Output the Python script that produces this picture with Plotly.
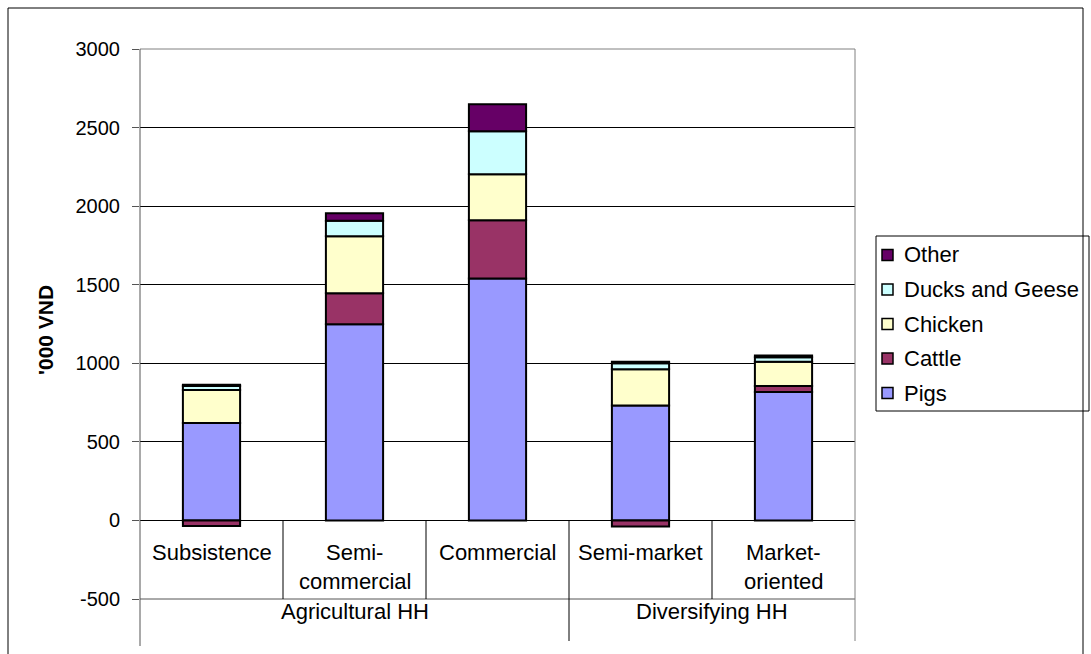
import plotly.graph_objects as go

# Livestock income by household type ('000 VND)
categories = ["Subsistence", "Semi-\ncommercial", "Commercial", "Semi-market", "Market-\noriented"]
groups = ["Agricultural HH", "Diversifying HH"]
group_sizes = [3, 2]

pigs = [620, 1248, 1540, 732, 818]
cattle = [-35, 198, 370, -38, 37]
chicken = [210, 363, 293, 230, 155]
ducks_geese = [25, 98, 274, 38, 28]
other = [8, 47, 172, 10, 12]

series = [
    ("Pigs", pigs, "#9999FF"),
    ("Cattle", cattle, "#993366"),
    ("Chicken", chicken, "#FFFFCC"),
    ("Ducks and Geese", ducks_geese, "#CCFFFF"),
    ("Other", other, "#660066"),
]

y_ticks = [-500, 0, 500, 1000, 1500, 2000, 2500, 3000]
y_tick_text = ["-500", "0", "500", "1000", "1500", "2000", "2500", "3000"]
y_min, y_max = -500, 3000

W, H = 1091, 654
L, R, T, B = 140, 855, 49, 599  # plot area in pixels
FONT = "Liberation Sans, Arial, sans-serif"
FS_TICK = 20
FS_LABEL = 22


def px_x(px):
    return (px - L) / (R - L)


def px_y(py):
    return (B - py) / (B - T)


n = len(categories)
xs = list(range(n))

fig = go.Figure()
for name, vals, color in series:
    fig.add_trace(go.Bar(
        x=xs, y=vals, name=name, width=0.4,
        marker=dict(color=color, line=dict(color="black", width=2)),
        showlegend=False,
    ))

shapes = []
annotations = []

zero_paper = (0 - y_min) / (y_max - y_min)

# bottom gridline (-500) also separates the two label rows
shapes.append(dict(type="line", xref="paper", yref="paper", x0=0, x1=1, y0=0, y1=0,
                   line=dict(color="#555555", width=1)))
# plot-area frame (top and right) in grey
shapes.append(dict(type="line", xref="paper", yref="paper", x0=0, x1=1, y0=1, y1=1,
                   line=dict(color="#808080", width=1)))
shapes.append(dict(type="line", xref="paper", yref="paper", x0=1, x1=1, y0=1, y1=px_y(641),
                   line=dict(color="#808080", width=1)))
# value axis line, running down through the label table
shapes.append(dict(type="line", xref="paper", yref="paper", x0=0, x1=0, y0=1, y1=px_y(646),
                   line=dict(color="#555555", width=1)))

# category table dividers
boundaries = set()
acc = 0
for s in group_sizes[:-1]:
    acc += s
    boundaries.add(acc)
for k in range(1, n):
    y_end = px_y(641) if k in boundaries else 0
    shapes.append(dict(type="line", xref="paper", yref="paper",
                       x0=k / n, x1=k / n, y0=zero_paper, y1=y_end,
                       line=dict(color="black", width=1)))

# category labels (one annotation per text line)
for i, lab in enumerate(categories):
    for j, line in enumerate(lab.split("\n")):
        annotations.append(dict(
            xref="paper", yref="paper", x=(i + 0.5) / n, y=px_y(552 + 29 * j),
            text=line, showarrow=False, xanchor="center", yanchor="middle",
            font=dict(family=FONT, size=FS_LABEL, color="black"),
        ))

# group labels
start = 0
for g, s in zip(groups, group_sizes):
    annotations.append(dict(
        xref="paper", yref="paper", x=(start + s / 2) / n, y=px_y(611),
        text=g, showarrow=False, xanchor="center", yanchor="middle",
        font=dict(family=FONT, size=FS_LABEL, color="black"),
    ))
    start += s

# value axis title
annotations.append(dict(
    xref="paper", yref="paper", x=px_x(45), y=px_y(330),
    text="<b>'000 VND</b>", textangle=-90, showarrow=False,
    xanchor="center", yanchor="middle",
    font=dict(family=FONT, size=21, color="black"),
))

# legend box, top item first
shapes.append(dict(type="rect", xref="paper", yref="paper",
                   x0=px_x(876), x1=px_x(1089), y0=px_y(236), y1=px_y(411),
                   line=dict(color="black", width=1), fillcolor="white"))
for k, (name, vals, color) in enumerate(reversed(series)):
    cy = 255 + 34.5 * k
    shapes.append(dict(type="rect", xref="paper", yref="paper",
                       x0=px_x(882), x1=px_x(893), y0=px_y(cy - 5.5), y1=px_y(cy + 5.5),
                       line=dict(color="black", width=1.5), fillcolor=color))
    annotations.append(dict(
        xref="paper", yref="paper", x=px_x(902), y=px_y(cy),
        text=name, showarrow=False, xanchor="left", yanchor="middle",
        font=dict(family=FONT, size=FS_LABEL, color="black"),
    ))

# outer chart border
shapes.append(dict(type="rect", xref="paper", yref="paper",
                   x0=px_x(8), x1=px_x(1083), y0=px_y(8), y1=px_y(662),
                   line=dict(color="black", width=1), fillcolor="rgba(0,0,0,0)"))

fig.update_layout(
    width=W, height=H,
    margin=dict(l=L, r=W - R, t=T, b=H - B, pad=0),
    barmode="relative",
    bargap=0.6,
    plot_bgcolor="white", paper_bgcolor="white",
    font=dict(family=FONT, size=FS_TICK, color="black"),
    shapes=shapes, annotations=annotations,
    showlegend=False,
    xaxis=dict(range=[-0.5, n - 0.5], showticklabels=False, showgrid=False,
               zeroline=False, showline=False, ticks=""),
    yaxis=dict(range=[y_min, y_max], tickvals=y_ticks, ticktext=y_tick_text,
               ticks="outside", ticklen=7,
               tickcolor="#555555", showgrid=True, gridcolor="black", gridwidth=1,
               zeroline=True, zerolinecolor="black", zerolinewidth=1, showline=False,
               ticklabelstandoff=8,
               tickfont=dict(family=FONT, size=FS_TICK, color="black")),
)

fig.write_html("out.html")
